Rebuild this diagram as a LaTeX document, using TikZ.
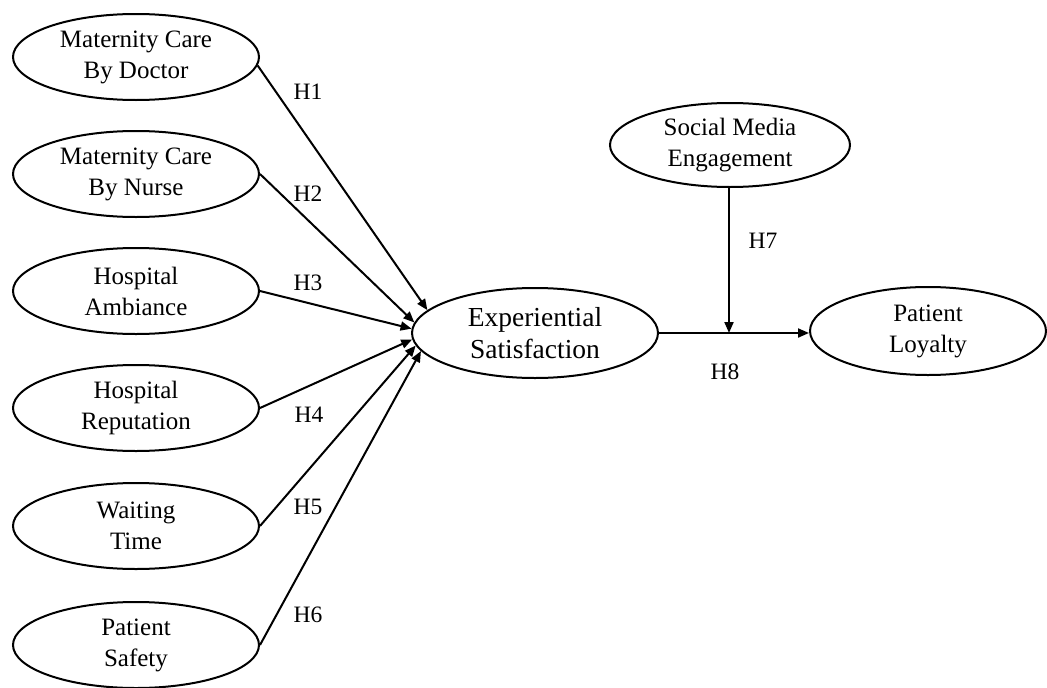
\documentclass[tikz,border=0pt]{standalone}
\usepackage{fontspec}
\setmainfont{Liberation Serif}
\usetikzlibrary{shapes.geometric,arrows.meta}
\begin{document}
\begin{tikzpicture}[x=1pt,y=-1pt,
  latent/.style={ellipse, draw, line width=2pt, minimum width=246pt, minimum height=86pt, inner sep=0pt, align=center, font=\fontsize{25}{31}\selectfont},
  bigl/.style={latent, minimum height=90pt, font=\fontsize{27.5}{32}\selectfont},
  hyp/.style={line width=2pt, -{Triangle[length=11pt,width=9pt]}},
  hlab/.style={font=\fontsize{23.5}{27}\selectfont}]
\useasboundingbox (0,0) rectangle (1047,688);
\node[latent] (doc) at (136,57) {Maternity Care\\By Doctor};
\node[latent] (nur) at (136,174) {Maternity Care\\By Nurse};
\node[latent] (amb) at (136,291) {Hospital\\Ambiance};
\node[latent] (rep) at (136,408) {Hospital\\Reputation};
\node[latent] (wait) at (136,526) {Waiting\\Time};
\node[latent] (saf) at (136,645) {Patient\\Safety};
\node[bigl] (exp) at (535,333) {Experiential\\Satisfaction};
\node[latent, minimum width=240pt, minimum height=84pt] (soc) at (730,145) {Social Media\\Engagement};
\node[latent, minimum width=236pt, minimum height=88pt] (loy) at (928,331) {Patient\\Loyalty};
\draw[hyp] (doc.-4) -- (exp.168);
\draw[hyp] (nur.east) -- (exp.175);
\draw[hyp] (amb.east) -- (exp.178.6);
\draw[hyp] (rep.east) -- (exp.183.3);
\draw[hyp] (wait.east) -- (exp.186.8);
\draw[hyp] (saf.east) -- (exp.189.6);
\coordinate (j) at (729,333);
\draw[hyp] (exp.east |- j) -- (loy.west |- j);
\draw[hyp] (j |- soc.south) -- (j);
\node[hlab] (h1) at (308,92) {H1};
\node[hlab] (h2) at (308,194) {H2};
\node[hlab] (h3) at (308,283) {H3};
\node[hlab] (h4) at (309,415) {H4};
\node[hlab] (h5) at (308,507) {H5};
\node[hlab] (h6) at (308,615) {H6};
\node[hlab] (h7) at (763,241) {H7};
\node[hlab] (h8) at (725,372) {H8};
\end{tikzpicture}
\end{document}
